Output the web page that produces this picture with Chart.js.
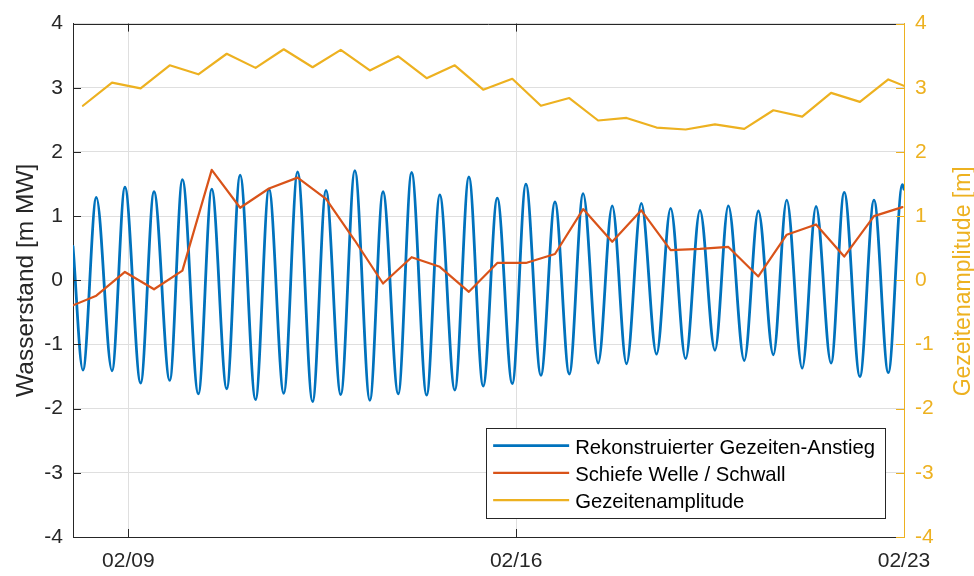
<!DOCTYPE html>
<html>
<head>
<meta charset="utf-8">
<title>Wasserstand und Gezeitenamplitude</title>
<script src="https://cdn.jsdelivr.net/npm/chart.js@4/dist/chart.umd.min.js"></script>
<style>
  html, body { margin: 0; padding: 0; background: #ffffff; }
  #wrap { width: 974px; height: 576px; }
</style>
</head>
<body>
<div id="wrap"><canvas id="chart" width="974" height="576"></canvas></div>
<script>
// Time axis: hours since 02/08 00:00
const dayTickHours  = [24, 192, 360];
const dayTickLabels = ['02/09', '02/16', '02/23'];
const levelTicks    = [-4, -3, -2, -1, 0, 1, 2, 3, 4];

// Reconstructed tide: successive high and low waters [m MW]
const highWaterHours  = [10.1, 22.5, 35.1, 47.4, 60.1, 72.4, 84.9, 97.3, 109.6, 122.1,
                         134.3, 146.7, 158.9, 171.5, 183.8, 196.2, 208.8, 221.0, 233.6, 246.2,
                         258.9, 271.6, 283.9, 296.9, 309.2, 321.9, 334.1, 347.0, 359.3];
const highWaterLevels = [1.29, 1.45, 1.38, 1.57, 1.42, 1.64, 1.42, 1.69, 1.40, 1.71,
                         1.38, 1.68, 1.33, 1.61, 1.28, 1.50, 1.22, 1.35, 1.16, 1.20,
                         1.12, 1.09, 1.16, 1.08, 1.25, 1.15, 1.37, 1.25, 1.49];
const lowWaterHours   = [4.3, 16.9, 29.3, 41.9, 54.3, 66.6, 79.1, 91.3, 103.8, 116.0,
                         128.6, 140.9, 153.2, 165.4, 177.7, 190.3, 202.7, 215.0, 227.5, 239.8,
                         252.8, 265.4, 278.1, 290.8, 303.4, 315.9, 328.4, 340.9, 353.2];
const lowWaterLevels  = [-1.40, -1.41, -1.60, -1.56, -1.77, -1.69, -1.86, -1.76, -1.89, -1.78,
                         -1.87, -1.77, -1.79, -1.71, -1.65, -1.61, -1.48, -1.46, -1.29, -1.30,
                         -1.15, -1.22, -1.09, -1.25, -1.16, -1.37, -1.29, -1.50, -1.44];
const tideEdgeHours   = [0, 360];
const tideEdgeLevels  = [0.53, 1.42];

// Skew surge per tide [m]
const surgeHours  = [0, 10.1, 22.5, 35.1, 47.4, 60.1, 72.4, 84.9, 97.3, 109.6, 122.1,
                     134.3, 146.7, 158.9, 171.5, 183.8, 196.2, 208.8, 221.0, 233.6, 246.2,
                     258.9, 271.6, 283.9, 296.9, 309.2, 321.9, 334.1, 347.0, 359.3];
const surgeLevels = [-0.39, -0.24, 0.13, -0.14, 0.15, 1.72, 1.13, 1.43, 1.60, 1.27, 0.62,
                     -0.05, 0.36, 0.21, -0.18, 0.27, 0.27, 0.41, 1.11, 0.60, 1.09,
                     0.47, 0.49, 0.52, 0.06, 0.71, 0.87, 0.37, 1.00, 1.14];

// Tidal range per tide [m]
const rangeHours  = [4.3, 16.9, 29.3, 41.9, 54.3, 66.6, 79.1, 91.3, 103.8, 116.0,
                     128.6, 140.9, 153.2, 165.4, 177.7, 190.3, 202.7, 215.0, 227.5, 239.8,
                     252.8, 265.4, 278.1, 290.8, 303.4, 315.9, 328.4, 340.9, 353.2, 360];
const rangeValues = [2.72, 3.08, 2.99, 3.35, 3.21, 3.53, 3.31, 3.60, 3.32, 3.59,
                     3.27, 3.49, 3.15, 3.35, 2.97, 3.14, 2.72, 2.84, 2.49, 2.53,
                     2.38, 2.35, 2.43, 2.36, 2.65, 2.55, 2.92, 2.78, 3.13, 3.03];

const FONT = '"Liberation Sans", Arial, Helvetica, sans-serif';
const INK = '#262626';
const GRID = '#dfdfdf';
const BLUE = '#0072BD', ORANGE = '#D95319', YELLOW = '#EDB120';

function pairs(xs, ys) { return xs.map((x, i) => ({ x: x, y: ys[i] })); }

function tideCurve() {
  return pairs(tideEdgeHours, tideEdgeLevels)
    .concat(pairs(lowWaterHours, lowWaterLevels))
    .concat(pairs(highWaterHours, highWaterLevels))
    .sort((a, b) => a.x - b.x);
}

// Box edge, inward tick marks, axis titles and the legend box
const framePlugin = {
  id: 'frame',
  afterDatasetsDraw(chart) {
    const { ctx, chartArea: a, scales } = chart;
    const seg = (x1, y1, x2, y2) => { ctx.beginPath(); ctx.moveTo(x1, y1); ctx.lineTo(x2, y2); ctx.stroke(); };
    const len = 8;
    ctx.save();
    ctx.lineWidth = 1;
    ctx.strokeStyle = INK;
    seg(a.left, Math.round(a.top) + 0.5, a.right, Math.round(a.top) + 0.5);
    levelTicks.forEach(v => {
      const y = Math.round(scales.y.getPixelForValue(v)) + 0.5;
      ctx.strokeStyle = INK;
      seg(a.left, y, a.left + len, y);
      const y2 = Math.round(scales.y2.getPixelForValue(v)) + 0.5;
      ctx.strokeStyle = YELLOW;
      seg(a.right - len, y2, a.right, y2);
    });
    ctx.strokeStyle = INK;
    dayTickHours.slice(0, -1).forEach(h => {
      const x = Math.round(scales.x.getPixelForValue(h)) + 0.5;
      seg(x, a.bottom, x, a.bottom - len);
      seg(x, a.top, x, a.top + len);
    });
    ctx.restore();
  },
  afterDraw(chart) {
    const { ctx, chartArea: a } = chart;
    const midY = (a.top + a.bottom) / 2;
    ctx.save();
    // axis titles
    ctx.textAlign = 'center';
    ctx.textBaseline = 'alphabetic';
    ctx.fillStyle = INK;
    ctx.font = '24.5px ' + FONT;
    ctx.translate(33, midY);
    ctx.rotate(-Math.PI / 2);
    ctx.fillText('Wasserstand [m MW]', 0, 0);
    ctx.setTransform(1, 0, 0, 1, 0, 0);
    ctx.fillStyle = YELLOW;
    ctx.font = '23px ' + FONT;
    ctx.translate(970, midY + 1);
    ctx.rotate(-Math.PI / 2);
    ctx.fillText('Gezeitenamplitude [m]', 0, 0);
    ctx.setTransform(1, 0, 0, 1, 0, 0);

    // legend
    const sets = chart.data.datasets;
    ctx.font = '20.3px ' + FONT;
    const textW = Math.max(...sets.map(d => ctx.measureText(d.label).width));
    const w = 89 + textW + 10, h = 90;
    const right = a.right - 19, bottom = a.bottom - 19;
    const left = right - w, top = bottom - h;
    ctx.fillStyle = '#ffffff';
    ctx.fillRect(left, top, w, h);
    ctx.strokeStyle = INK;
    ctx.lineWidth = 1;
    ctx.strokeRect(Math.round(left) + 0.5, Math.round(top) + 0.5, Math.round(w), Math.round(h));
    ctx.textAlign = 'left';
    sets.forEach((d, i) => {
      const y = top + 17.7 + i * 27.2;
      ctx.strokeStyle = d.borderColor;
      ctx.lineWidth = d.borderWidth;
      ctx.beginPath(); ctx.moveTo(left + 7, y); ctx.lineTo(left + 83, y); ctx.stroke();
      ctx.fillStyle = '#000000';
      ctx.fillText(d.label, left + 89, y + 8.3);
    });
    ctx.restore();
  }
};

new Chart(document.getElementById('chart'), {
  type: 'line',
  data: {
    datasets: [
      { label: 'Rekonstruierter Gezeiten-Anstieg', data: tideCurve(), yAxisID: 'y',
        borderColor: BLUE, borderWidth: 2.8, cubicInterpolationMode: 'monotone', order: 3 },
      { label: 'Schiefe Welle / Schwall', data: pairs(surgeHours, surgeLevels), yAxisID: 'y',
        borderColor: ORANGE, borderWidth: 2.2, tension: 0, order: 2 },
      { label: 'Gezeitenamplitude', data: pairs(rangeHours, rangeValues), yAxisID: 'y2',
        borderColor: YELLOW, borderWidth: 2.2, tension: 0, order: 1 }
    ]
  },
  options: {
    responsive: false,
    animation: false,
    devicePixelRatio: 1,
    layout: { padding: { top: 13, left: 0, right: 0, bottom: 0 } },
    elements: { point: { radius: 0, hoverRadius: 0 }, line: { borderJoinStyle: 'round', borderCapStyle: 'round' } },
    plugins: { legend: { display: false }, tooltip: { enabled: false } },
    scales: {
      x: {
        type: 'linear', min: 0, max: 360,
        afterBuildTicks: s => { s.ticks = dayTickHours.map(v => ({ value: v })); },
        afterFit: s => { s.height = 39; },
        ticks: { autoSkip: false, maxRotation: 0, padding: 12, color: INK,
                 font: { family: FONT, size: 21 },
                 callback: (v, i) => dayTickLabels[i] },
        grid: { color: GRID, lineWidth: 1, drawTicks: false },
        border: { color: INK, width: 1 }
      },
      y: {
        position: 'left', min: -4, max: 4,
        afterBuildTicks: s => { s.ticks = levelTicks.map(v => ({ value: v })); },
        afterFit: s => { s.width = 73; },
        ticks: { padding: 10, color: INK, font: { family: FONT, size: 21 } },
        grid: { color: GRID, lineWidth: 1, drawTicks: false },
        border: { color: INK, width: 1 }
      },
      y2: {
        position: 'right', min: -4, max: 4,
        afterBuildTicks: s => { s.ticks = levelTicks.map(v => ({ value: v })); },
        afterFit: s => { s.width = 70; },
        ticks: { padding: 11, color: YELLOW, font: { family: FONT, size: 21 } },
        grid: { drawOnChartArea: false, drawTicks: false },
        border: { color: YELLOW, width: 1 }
      }
    }
  },
  plugins: [framePlugin]
});
</script>
</body>
</html>
